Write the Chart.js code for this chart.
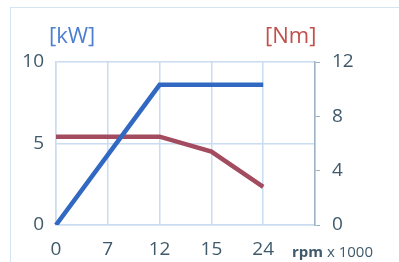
<!DOCTYPE html>
<html>
<head>
<meta charset="utf-8">
<script src="https://cdn.jsdelivr.net/npm/chart.js@4"></script>
<style>
  html, body { margin: 0; padding: 0; background: #fff; }
  #wrap { position: relative; width: 399px; height: 262px; overflow: hidden; }
  #frame { position: absolute; left: 10px; top: 7px; width: 420px; height: 300px; border: 1px solid #d6e3f1; }
  canvas { position: absolute; left: 0; top: 0; }
</style>
</head>
<body>
<div id="wrap">
  <div id="frame"></div>
  <canvas id="motorChart" width="399" height="262"></canvas>
</div>
<script>
// rpm x 1000 (last slot is empty, just like the original)
const rpmLabels = ['0', '7', '12', '15', '24', ''];
const powerKw = [0, 4.3, 8.6, 8.6, 8.6, null];
const torqueNm = [6.5, 6.5, 6.5, 5.4, 2.8, null];

const tickColor = '#3f5a6b';
const gridColor = '#c9dcf0';

// draws the unit labels on the canvas
const unitLabels = {
  id: 'unitLabels',
  afterDraw(chart) {
    const ctx = chart.ctx;
    ctx.save();
    ctx.textBaseline = 'middle';
    ctx.textAlign = 'left';
    ctx.font = '22px "Open Sans", sans-serif';
    ctx.fillStyle = '#4c7fd2';
    ctx.fillText('[kW]', 49, 37);
    ctx.fillStyle = '#c0504d';
    ctx.fillText('[Nm]', 265, 37);
    ctx.fillStyle = tickColor;
    ctx.font = 'bold 15px "Open Sans", sans-serif';
    ctx.fillText('rpm', 292, 253);
    const w = ctx.measureText('rpm ').width;
    ctx.font = '15px "Open Sans", sans-serif';
    ctx.fillText('x 1000', 292 + w, 253);
    ctx.restore();
  }
};

const ctx = document.getElementById('motorChart').getContext('2d');
const motorChart = new Chart(ctx, {
  type: 'line',
  data: {
    labels: rpmLabels,
    datasets: [
      {
        label: 'kW',
        data: powerKw,
        borderColor: '#3068c2',
        borderWidth: 4.5,
        pointRadius: 0,
        yAxisID: 'y',
        tension: 0
      },
      {
        label: 'Nm',
        data: torqueNm,
        borderColor: '#a34c5f',
        borderWidth: 4.5,
        pointRadius: 0,
        yAxisID: 'y1',
        tension: 0
      }
    ]
  },
  options: {
    responsive: false,
    animation: false,
    layout: { padding: { top: 62 } },
    plugins: {
      legend: { display: false },
      tooltip: { enabled: false }
    },
    scales: {
      x: {
        offset: false,
        grid: { color: gridColor, lineWidth: 1.5, drawTicks: false },
        border: { color: gridColor, width: 1.5 },
        ticks: { color: tickColor, padding: 13, maxRotation: 0, autoSkip: false, font: { family: 'Open Sans', size: 19 } },
        afterFit(s) { s.height = 37; }
      },
      y: {
        position: 'left',
        min: 0,
        max: 10,
        ticks: { stepSize: 5, color: tickColor, padding: 12, font: { family: 'Open Sans', size: 19 } },
        grid: { color: gridColor, lineWidth: 1.5, drawTicks: false },
        border: { color: gridColor, width: 1.5 },
        afterFit(s) { s.width = 56; }
      },
      y1: {
        position: 'right',
        min: 0,
        max: 12,
        ticks: { stepSize: 4, color: tickColor, padding: 12, font: { family: 'Open Sans', size: 19 } },
        grid: { drawOnChartArea: false, color: '#9fb3c6', tickLength: 5 },
        border: { color: '#9fb3c6', width: 1.5 },
        afterFit(s) { s.width = 84; }
      }
    }
  },
  plugins: [unitLabels]
});
</script>
</body>
</html>
